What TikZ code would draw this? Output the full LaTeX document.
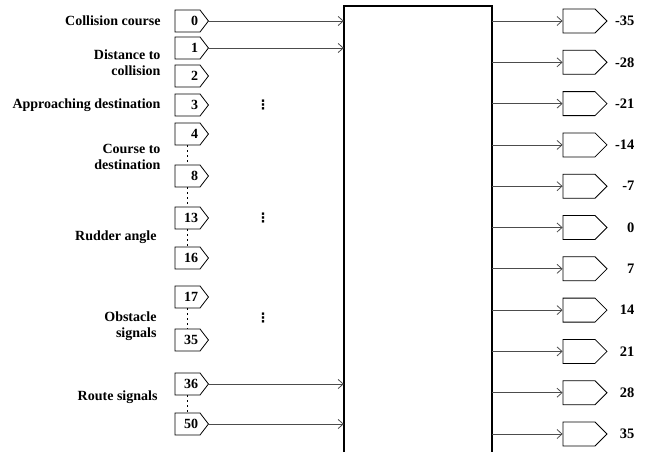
\documentclass[tikz,border=0pt]{standalone}
\usepackage{fontspec}
\setmainfont{Liberation Serif}
\newfontfamily\symfont{DejaVu Sans}
\usetikzlibrary{shapes.symbols, arrows.meta, positioning}

\begin{document}
\begin{tikzpicture}[
  x=1pt, y=-1pt,
  inbox/.style={
    signal, signal to=east, signal pointer angle=105,
    draw, line width=0.8pt,
    text width=21pt, align=right,
    inner xsep=2pt, inner ysep=0pt, minimum height=22pt,
    font=\bfseries\fontsize{14}{14}\selectfont
  },
  outbox/.style={
    signal, signal to=east, signal pointer angle=90,
    draw, line width=0.8pt,
    text width=28pt, inner xsep=2pt, inner ysep=0pt,
    minimum height=24pt
  },
  lbl/.style={anchor=east, align=right, font=\bfseries\fontsize{14}{16}\selectfont},
  val/.style={anchor=east, font=\bfseries\fontsize{14.5}{15}\selectfont},
  more/.style={font=\symfont\bfseries\fontsize{13}{13}\selectfont},
  arr/.style={-{Straight Barb[length=5pt,width=9pt]}, gray!60!black, line width=0.8pt},
  gap/.style={dash pattern=on 1.5pt off 3.5pt, line width=1.3pt},
]
\useasboundingbox (0,0) rectangle (652,452);

% Network block (open at the bottom)
\node[minimum width=148pt, minimum height=446pt, inner sep=0pt] (net) at (418,229) {};
\draw[line width=1.5pt] (net.south west) -- (net.north west) -- (net.north east) -- (net.south east);

% Input neurons
\foreach \n/\y in {0/21,1/48,2/76,3/105,4/134,8/176,13/218,16/258,17/297,35/340,36/384,50/424}
  \node[inbox] (i\n) at (187.5,\y) {\n};

% Input groups
\node[lbl] (lcol) at (164,21) {Collision course};
\node[lbl] (ldist) at (164,63) {Distance to\\collision};
\node[lbl] (lapp) at (164,105) {Approaching destination};
\node[lbl] (lcrs) at (164,157) {Course to\\destination};
\node[lbl] (lrud) at (160,237) {Rudder angle};
\node[lbl] (lobs) at (160,326) {Obstacle\\signals};
\node[lbl] (lrte) at (161,397) {Route signals};

% Skipped inputs
\draw[gap] (i4.south) -- (i8.north);
\draw[gap] (i8.south) -- (i13.north);
\draw[gap] (i13.south) -- (i16.north);
\draw[gap] (i17.south) -- (i35.north);
\draw[gap] (i36.south) -- (i50.north);

\node[more] (e1) at (263,105) {⋮};
\node[more] (e2) at (263,218) {⋮};
\node[more] (e3) at (263,318) {⋮};

% Input connections
\foreach \n in {0,1,36,50}
  \draw[arr] (i\n.east) -- (i\n.east -| net.west);

% Output neurons (rudder commands)
\foreach \v [count=\k from 0] in {-35,-28,-21,-14,-7,0,7,14,21,28,35} {
  \node[outbox] (o\k) at (579,{21+41.3*\k}) {};
  \node[val] (v\k) at (638,{21+41.3*\k}) {\v};
  \draw[arr] (o\k.west -| net.east) -- (o\k.west);
}

\end{tikzpicture}
\end{document}
